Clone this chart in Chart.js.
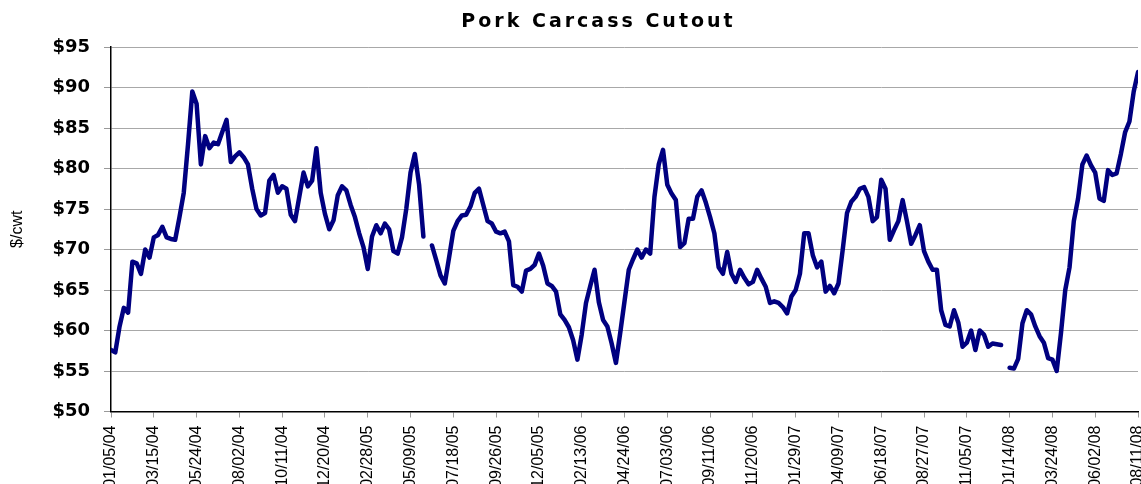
<!DOCTYPE html>
<html>
<head>
<meta charset="utf-8">
<title>Pork Carcass Cutout</title>
<script src="https://cdn.jsdelivr.net/npm/chart.js@4.4.1/dist/chart.umd.min.js"></script>
<style>
    html, body { margin: 0; padding: 0; background: #fff; }
    .wrap { position: relative; width: 1141px; height: 484px; overflow: hidden; }
    .chart-title {
        position: absolute; top: 9px; left: 28px; width: 1141px;
        text-align: center; line-height: 22px;
        font: bold 19px "DejaVu Sans", sans-serif; letter-spacing: 3px; color: #000;
    }
</style>
</head>
<body>
<div class="wrap">
    <div class="chart-title">Pork Carcass Cutout</div>
    <canvas id="chart-cutout"></canvas>
</div>
<script>
    // tick labels, one every 10 weeks
    const tickLabels = ['01/05/04', '03/15/04', '05/24/04', '08/02/04', '10/11/04', '12/20/04', '02/28/05',
        '05/09/05', '07/18/05', '09/26/05', '12/05/05', '02/13/06', '04/24/06', '07/03/06', '09/11/06',
        '11/20/06', '01/29/07', '04/09/07', '06/18/07', '08/27/07', '11/05/07', '01/14/08', '03/24/08',
        '06/02/08', '08/11/08'];

    // weekly cutout value, $/cwt (null = no report)
    const prices = [
        57.6, 57.3, 60.5, 62.8, 62.2, 68.5, 68.3, 67.0, 70.0, 69.0,
        71.5, 71.8, 72.8, 71.5, 71.3, 71.2, 74.0, 77.0, 83.0, 89.5,
        88.0, 80.5, 84.0, 82.5, 83.2, 83.0, 84.5, 86.0, 80.8, 81.5,
        82.0, 81.4, 80.5, 77.5, 75.0, 74.2, 74.5, 78.5, 79.2, 77.0,
        77.8, 77.5, 74.3, 73.5, 76.5, 79.5, 77.8, 78.5, 82.5, 77.0,
        74.4, 72.5, 73.6, 76.7, 77.8, 77.3, 75.5, 74.0, 72.0, 70.3,
        67.6, 71.6, 73.0, 72.0, 73.2, 72.5, 69.8, 69.5, 71.5, 75.0,
        79.5, 81.8, 78.0, 71.6, null, 70.5, 68.7, 66.8, 65.8, 69.0,
        72.3, 73.5, 74.2, 74.3, 75.3, 77.0, 77.5, 75.5, 73.5, 73.2,
        72.2, 72.0, 72.2, 71.0, 65.6, 65.4, 64.8, 67.4, 67.6, 68.1,
        69.5, 68.0, 65.8, 65.5, 64.8, 62.0, 61.3, 60.4, 58.8, 56.4,
        59.5, 63.4, 65.5, 67.5, 63.5, 61.3, 60.5, 58.4, 56.0, 59.7,
        63.6, 67.5, 68.8, 70.0, 69.0, 70.0, 69.5, 76.5, 80.5, 82.3,
        78.0, 76.9, 76.1, 70.3, 70.8, 73.8, 73.8, 76.5, 77.3, 75.8,
        74.0, 72.0, 67.8, 67.0, 69.7, 67.0, 66.0, 67.5, 66.5, 65.7,
        66.0, 67.5, 66.4, 65.4, 63.4, 63.6, 63.4, 62.9, 62.1, 64.2,
        65.0, 67.0, 72.0, 72.0, 69.3, 67.8, 68.5, 64.8, 65.5, 64.6,
        65.8, 70.0, 74.5, 75.9, 76.5, 77.5, 77.7, 76.5, 73.5, 74.0,
        78.6, 77.5, 71.2, 72.4, 73.5, 76.1, 73.5, 70.7, 71.8, 73.0,
        69.8, 68.5, 67.5, 67.5, 62.5, 60.7, 60.5, 62.5, 61.0, 58.0,
        58.5, 60.0, 57.6, 60.0, 59.5, 58.0, 58.4, 58.3, 58.2, null,
        55.4, 55.3, 56.5, 60.9, 62.5, 62.0, 60.5, 59.3, 58.5, 56.6,
        56.4, 55.0, 59.7, 65.0, 67.8, 73.5, 76.3, 80.5, 81.6, 80.4,
        79.5, 76.3, 76.0, 79.8, 79.2, 79.4, 81.8, 84.5, 85.8, 89.5, 91.9
    ];

    // week number since 01/05/04
    const weeks = prices.map((_, i) => i);

    const ctx = document.getElementById('chart-cutout').getContext('2d');
    new Chart(ctx, {
        type: 'line',
        data: {
            labels: weeks,
            datasets: [{
                label: 'Pork Carcass Cutout',
                data: prices,
                borderColor: '#000080',
                backgroundColor: '#000080',
                borderWidth: 4.5,
                borderJoinStyle: 'round',
                borderCapStyle: 'round',
                pointRadius: 0,
                tension: 0,
                spanGaps: false
            }]
        },
        options: {
            responsive: true,
            maintainAspectRatio: false,
            animation: false,
            layout: { padding: { top: 47, right: 3, left: 0, bottom: 0 } },
            plugins: {
                legend: { display: false },
                tooltip: { enabled: false }
            },
            scales: {
                x: {
                    type: 'linear',
                    min: 0,
                    max: 240,
                    ticks: {
                        stepSize: 10,
                        autoSkip: false,
                        minRotation: 90,
                        maxRotation: 90,
                        padding: 8,
                        color: '#000',
                        font: { family: 'Liberation Sans', size: 16 },
                        callback: v => tickLabels[v / 10]
                    },
                    grid: { drawOnChartArea: false, tickLength: 6, tickColor: '#999' },
                    border: { color: '#000', width: 1.5 },
                    afterFit: s => { s.height = 484 - 411.5; s.paddingLeft = 0; s.paddingRight = 0; }
                },
                y: {
                    min: 50,
                    max: 95,
                    ticks: {
                        stepSize: 5,
                        padding: 14,
                        color: '#000',
                        font: { family: 'DejaVu Sans', size: 18, weight: 'bold' },
                        callback: v => '$' + v
                    },
                    grid: { color: '#a8a8a8', lineWidth: 1, tickLength: 7, tickColor: '#999' },
                    border: { color: '#000', width: 1.5 },
                    title: {
                        display: true,
                        text: '$/cwt',
                        color: '#000',
                        font: { family: 'Liberation Sans', size: 16 },
                        padding: { top: 8 }
                    },
                    afterFit: s => { s.width = 111; }
                }
            }
        }
    });
</script>
</body>
</html>
